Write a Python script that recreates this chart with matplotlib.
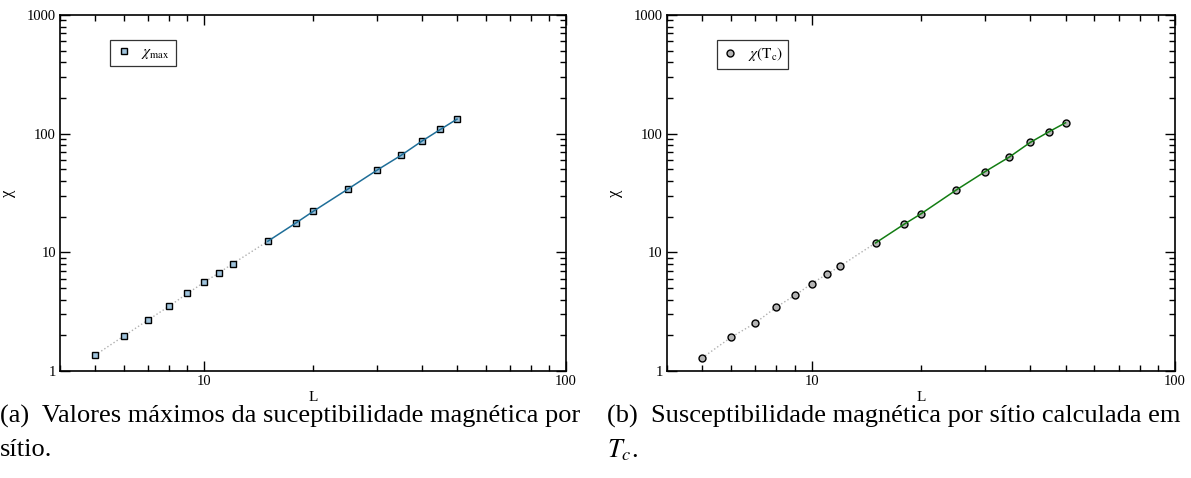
import numpy as np
import matplotlib.pyplot as plt
from matplotlib.ticker import FixedLocator, FixedFormatter, LogLocator, NullFormatter

plt.rcParams['font.family'] = ['Liberation Serif', 'DejaVu Serif']
plt.rcParams['mathtext.fontset'] = 'stix'

# Dados
L = [5, 6, 7, 8, 9, 10, 11, 12, 15, 18, 20, 25, 30, 35, 40, 45, 50]
chi_max = [1.36, 1.97, 2.69, 3.51, 4.51, 5.59, 6.73, 8.02, 12.4, 17.8, 22.1,
           34.2, 49.1, 65.6, 86.6, 108.7, 132.7]
chi_tc = [1.29, 1.92, 2.54, 3.46, 4.34, 5.44, 6.53, 7.67, 12.0, 17.3, 21.1,
          33.5, 47.8, 63.5, 84.5, 103.8, 123.6]
L_corte = 15  # início do ajuste (linha contínua)

legendas = [r'$\chi_{\mathrm{max}}$', r'$\chi(\mathrm{T_c})$']
legendas_texto = ['(a)  Valores máximos da suceptibilidade magnética por', 'sítio.']
legendas_texto_b = ['(b)  Susceptibilidade magnética por sítio calculada em', r'$T_c$.']

fig = plt.figure(figsize=(11.91, 4.78), dpi=100)
ax1 = fig.add_axes([0.0504, 0.2238, 0.4248, 0.7448])
ax2 = fig.add_axes([0.560, 0.2238, 0.4265, 0.7448])

L_arr = np.array(L)
config = [
    (ax1, np.array(chi_max), 's', '#9fc3dc', '#1f6e98', legendas[0], 0.099),
    (ax2, np.array(chi_tc), 'o', '#b4b4b4', '#137d13', legendas[1], 0.098),
]

for ax, y, marcador, cor_face, cor_linha, rotulo, x_leg in config:
    baixo = L_arr <= L_corte
    alto = L_arr >= L_corte
    ax.plot(L_arr[baixo], y[baixo], linestyle=':', color='#b0b0b0', linewidth=1.0, zorder=1)
    ax.plot(L_arr, y, linestyle='none', marker=marcador, markersize=5,
            markerfacecolor=cor_face, markeredgecolor='black', markeredgewidth=1.0,
            label=rotulo, zorder=2)
    ax.plot(L_arr[alto], y[alto], linestyle='-', color=cor_linha, linewidth=1.1, zorder=3)

    ax.set_xscale('log')
    ax.set_yscale('log')
    ax.set_xlim(4, 100)
    ax.set_ylim(1, 1000)

    ax.xaxis.set_major_locator(FixedLocator([10, 100]))
    ax.xaxis.set_major_formatter(FixedFormatter(['10', '100']))
    ax.yaxis.set_major_locator(FixedLocator([1, 10, 100, 1000]))
    ax.yaxis.set_major_formatter(FixedFormatter(['1', '10', '100', '1000']))
    ax.xaxis.set_minor_locator(LogLocator(base=10, subs=np.arange(2, 10)))
    ax.yaxis.set_minor_locator(LogLocator(base=10, subs=np.arange(2, 10)))
    ax.xaxis.set_minor_formatter(NullFormatter())
    ax.yaxis.set_minor_formatter(NullFormatter())

    ax.tick_params(which='both', direction='in', top=True, right=True,
                   labelsize=10.5, width=1.0, pad=3)
    ax.tick_params(which='major', length=7)
    ax.tick_params(which='minor', length=4)
    for s in ax.spines.values():
        s.set_linewidth(1.2)

    ax.set_xlabel('L', fontsize=11, labelpad=2)
    ax.set_ylabel('χ', fontsize=12, labelpad=8)

    leg = ax.legend(loc='upper left', bbox_to_anchor=(x_leg, 0.93), frameon=True,
                    fancybox=False, edgecolor='black', fontsize=11,
                    handlelength=1.1, handletextpad=0.6, borderpad=0.35,
                    borderaxespad=0)
    leg.get_frame().set_linewidth(0.9)

# Legendas das subfiguras
fig.text(0.0, 1 - 416 / 478, legendas_texto[0], fontsize=19, va='center', ha='left')
fig.text(0.0, 1 - 450 / 478, legendas_texto[1], fontsize=19, va='center', ha='left')
fig.text(0.5095, 1 - 416 / 478, legendas_texto_b[0], fontsize=19, va='center', ha='left')
fig.text(0.5095, 1 - 450 / 478, legendas_texto_b[1], fontsize=19, va='center', ha='left')

plt.savefig('out.png', dpi=100)
